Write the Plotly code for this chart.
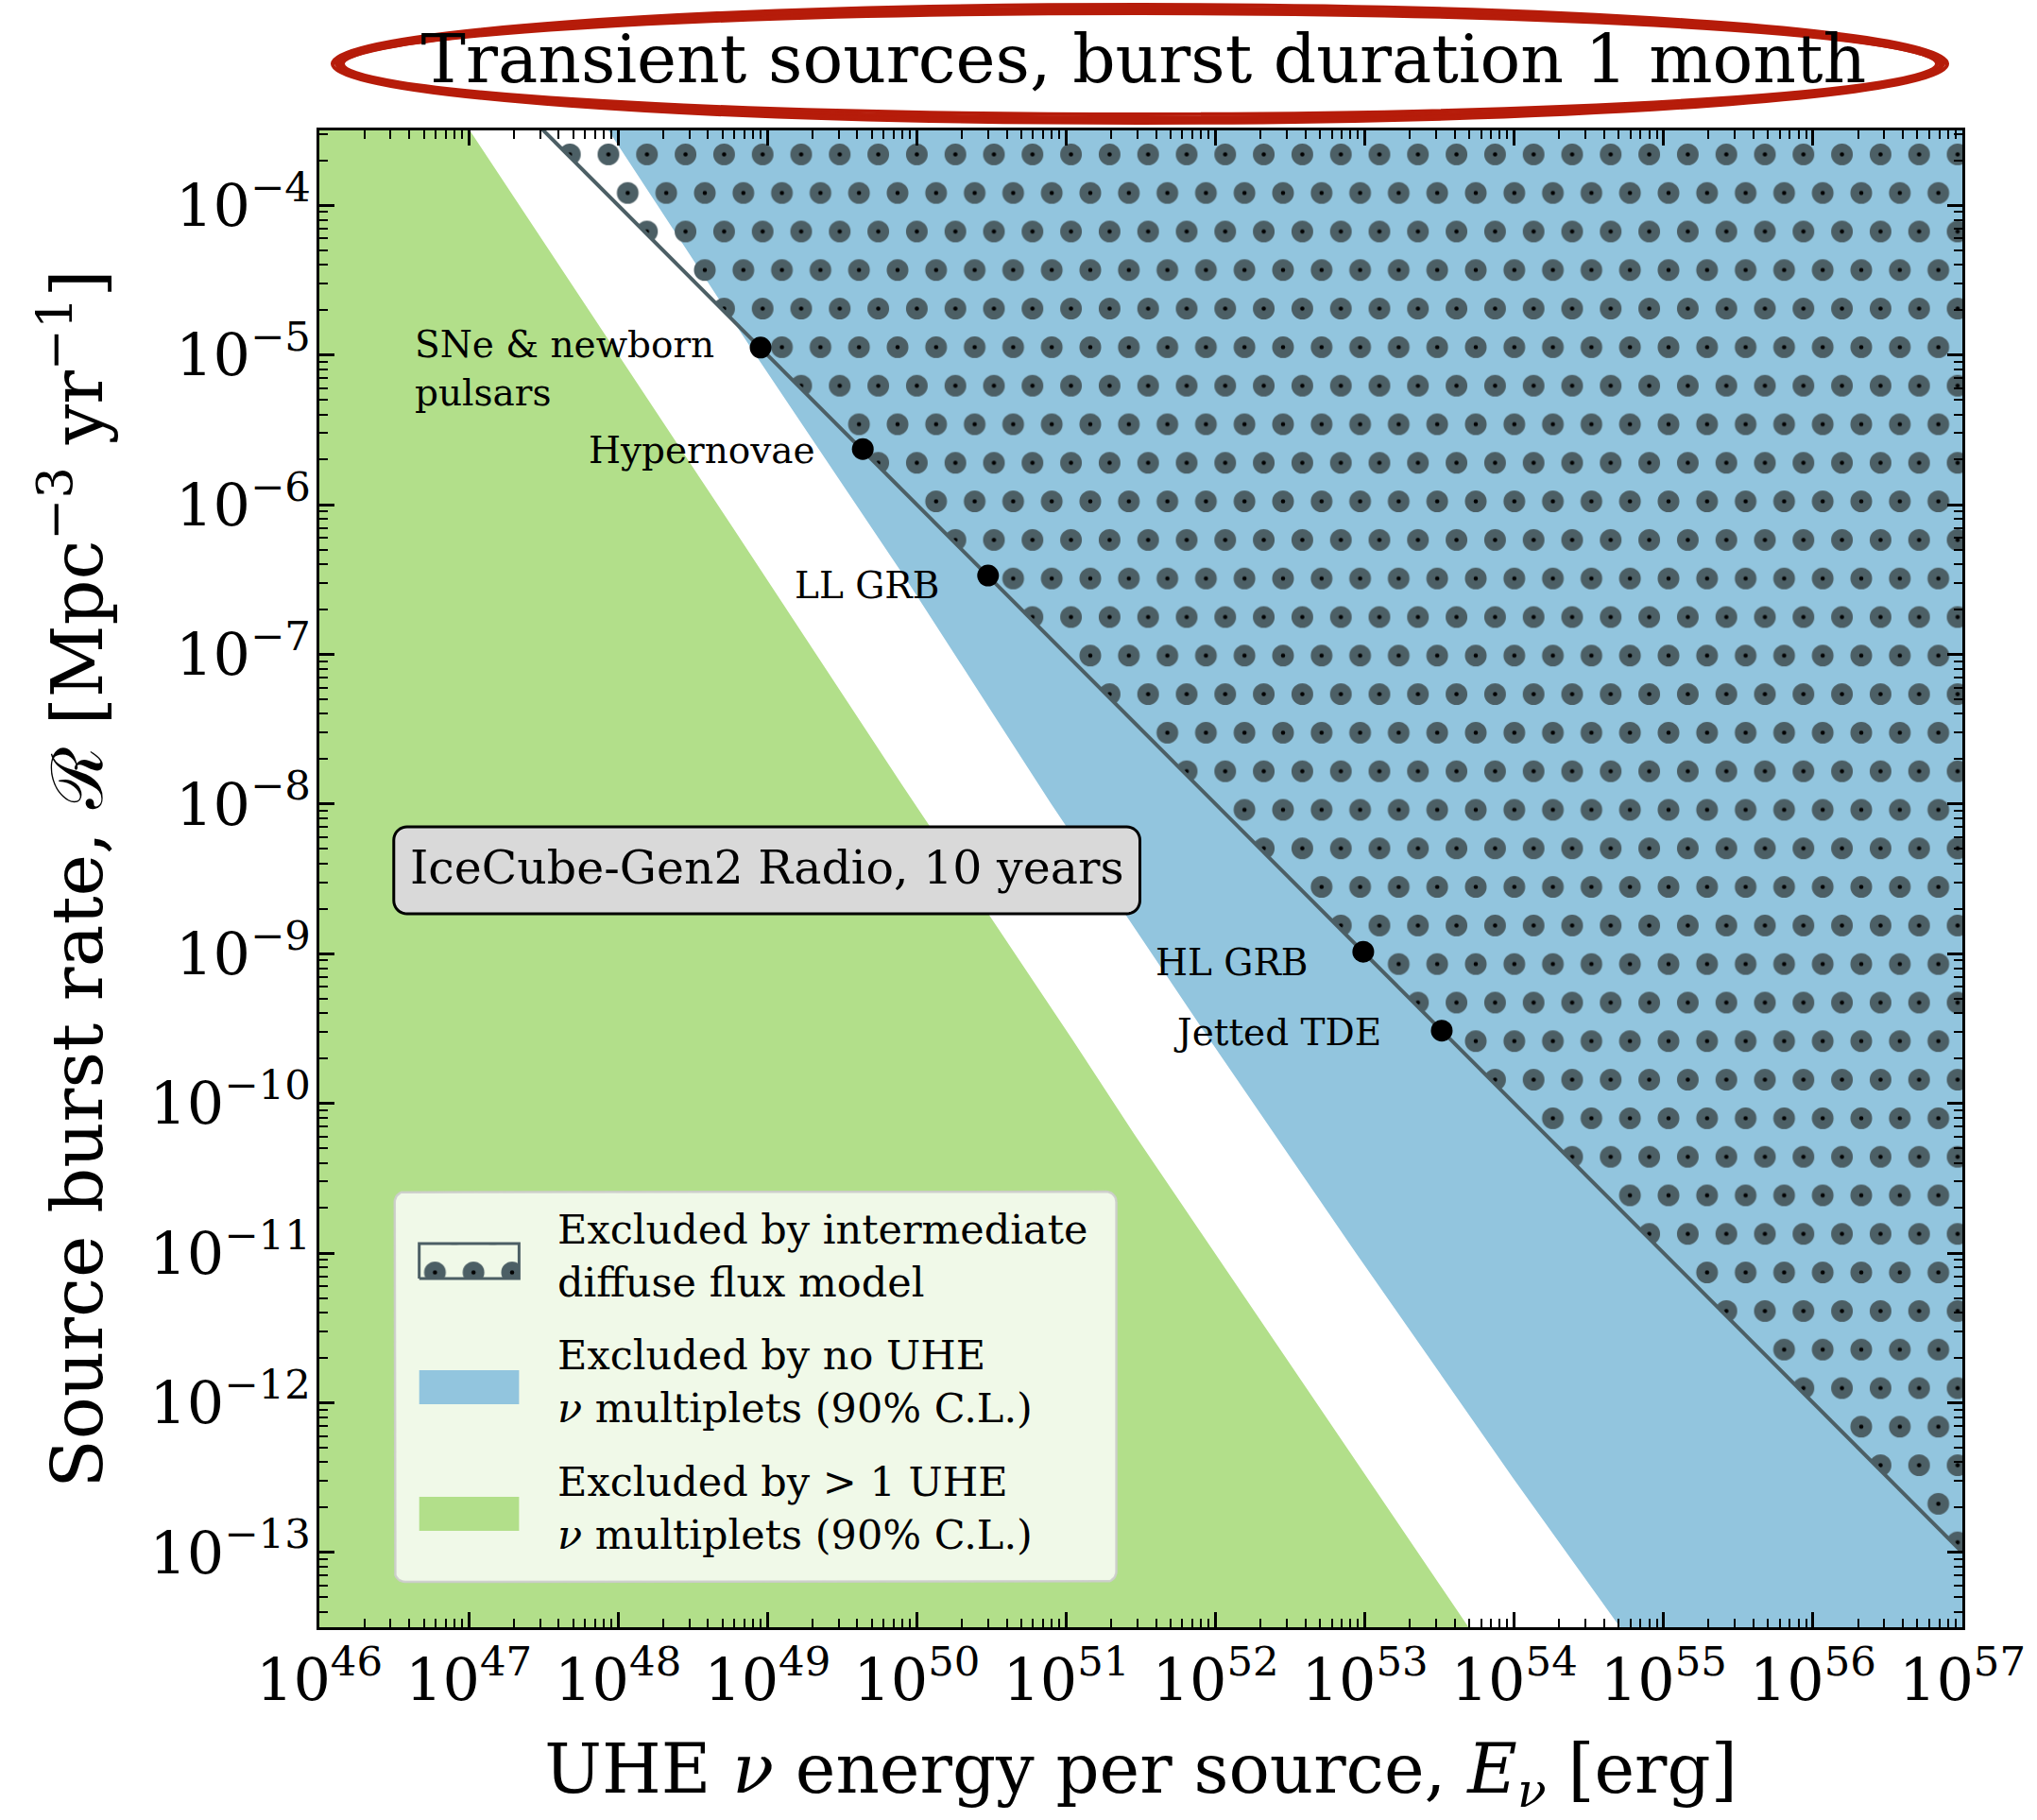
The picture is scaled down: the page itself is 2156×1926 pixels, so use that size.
import numpy as np
import plotly.graph_objects as go

# ------------------------------------------------------------------ data
x_tick_vals = [1e46, 1e47, 1e48, 1e49, 1e50, 1e51, 1e52, 1e53, 1e54, 1e55, 1e56, 1e57]
x_tick_text = ["10<sup>46</sup>", "10<sup>47</sup>", "10<sup>48</sup>", "10<sup>49</sup>",
               "10<sup>50</sup>", "10<sup>51</sup>", "10<sup>52</sup>", "10<sup>53</sup>",
               "10<sup>54</sup>", "10<sup>55</sup>", "10<sup>56</sup>", "10<sup>57</sup>"]
y_tick_vals = [1e-13, 1e-12, 1e-11, 1e-10, 1e-9, 1e-8, 1e-7, 1e-6, 1e-5, 1e-4]
y_tick_text = ["10<sup>−13</sup>", "10<sup>−12</sup>", "10<sup>−11</sup>", "10<sup>−10</sup>",
               "10<sup>−9</sup>", "10<sup>−8</sup>", "10<sup>−7</sup>", "10<sup>−6</sup>",
               "10<sup>−5</sup>", "10<sup>−4</sup>"]

# boundary of region excluded by > 1 UHE multiplets (green)
green_E = [8.7e46, 5.96e48, 7.94e49, 1.10e51, 2.85e51, 5.8e53]
green_R = [4.0e-4, 6.85e-7, 1.35e-8, 2.67e-10, 6.24e-11, 2.5e-14]
# boundary of region excluded by no UHE multiplets (blue)
blue_E = [7.41e47, 8.32e48, 8.51e49, 7.94e50, 8.13e51, 8.71e52, 9.77e53, 6.03e54]
blue_R = [3.98e-4, 1.0e-5, 3.16e-7, 1.0e-8, 3.16e-10, 1.0e-11, 3.16e-13, 2.51e-14]
# intermediate diffuse flux model limit
diffuse_E = [1e47, 1e57]
diffuse_R = [1e-3, 1e-13]
# source classes
source_names = ["SNe & newborn<br>pulsars", "Hypernovae", "LL GRB", "HL GRB", "Jetted TDE"]
source_E = [9.0e48, 4.35e49, 3.0e50, 9.75e52, 3.27e53]
source_R = [1.12e-5, 2.35e-6, 3.36e-7, 1.03e-9, 3.06e-10]

legend_texts = ["Excluded by intermediate<br>diffuse flux model",
                "Excluded by no UHE<br><i>ν</i> multiplets (90% C.L.)",
                "Excluded by &gt; 1 UHE<br><i>ν</i> multiplets (90% C.L.)"]

# ------------------------------------------------------------------ style
FONT = "DejaVu Serif"
GREEN = "#b2df8a"
BLUE = "#92c5de"
SLATE = "#4c5f65"
W, H = 2156, 1926
ML, MR, MT, MB = 338, 74, 138, 204
PW, PH = W - ML - MR, H - MT - MB


def px2paper(px, py):
    return (px - ML) / PW, (H - MB - py) / PH


def rounded_pts(px0, py0, px1, py1, rad, n=10):
    x0, y1 = px2paper(px0, py0)
    x1, y0 = px2paper(px1, py1)
    rx, ry = rad / PW, rad / PH
    pts = []
    for cx, cy, a0, a1 in [(x1 - rx, y1 - ry, 0, 90), (x0 + rx, y1 - ry, 90, 180),
                           (x0 + rx, y0 + ry, 180, 270), (x1 - rx, y0 + ry, 270, 360)]:
        for a in np.radians(np.linspace(a0, a1, n)):
            pts.append((cx + rx * np.cos(a), cy + ry * np.sin(a)))
    pts.append(pts[0])
    return pts


def rounded_path(*args, **kw):
    pts = rounded_pts(*args, **kw)
    return "M" + "L".join(f"{x:.5f},{y:.5f}" for x, y in pts) + "Z"


# dotted hatch patterns (staggered grid)
T = 81.6
DY = 5
CENTERS = [(T / 4, T / 4 + DY), (3 * T / 4, T / 4 + DY), (0, 3 * T / 4 + DY),
           (T / 2, 3 * T / 4 + DY), (T, 3 * T / 4 + DY)]


def circles(r):
    return "".join(
        f"M{cx - r:.2f},{cy:.2f}A{r},{r} 0 1,0 {cx + r:.2f},{cy:.2f}A{r},{r} 0 1,0 {cx - r:.2f},{cy:.2f}Z"
        for cx, cy in CENTERS)


def make_pattern(r, color):
    try:
        fp = dict(path=circles(r), size=T, fgcolor=color, bgcolor="rgba(0,0,0,0)", fillmode="replace")
        go.scatter.Fillpattern(**fp)
        return fp
    except Exception:
        s = T / 2
        return dict(shape=".", size=s, solidity=np.pi * r * r / (s * s), fgcolor=color,
                    bgcolor="rgba(0,0,0,0)", fillmode="replace")


PAT_DOT = make_pattern(11.5, SLATE)
PAT_CTR = make_pattern(2.3, "black")

fig = go.Figure()
X_LO, X_HI = 1e45, 1e58
NOLINE = dict(color="rgba(0,0,0,0)", width=0)

# green region
fig.add_trace(go.Scatter(x=green_E + [X_LO, X_LO], y=green_R + [green_R[-1], green_R[0]],
                         fill="toself", fillcolor=GREEN, mode="lines", line=NOLINE,
                         hoverinfo="skip", showlegend=False))
# blue region
fig.add_trace(go.Scatter(x=blue_E + [X_HI, X_HI], y=blue_R + [blue_R[-1], blue_R[0]],
                         fill="toself", fillcolor=BLUE, mode="lines", line=NOLINE,
                         hoverinfo="skip", showlegend=False))
# hatched region above diffuse limit
hx = diffuse_E + [X_HI, X_HI]
hy = diffuse_R + [diffuse_R[-1], diffuse_R[0]]
for pat in (PAT_DOT, PAT_CTR):
    fig.add_trace(go.Scatter(x=hx, y=hy, fill="toself", fillcolor="rgba(0,0,0,0)", fillpattern=pat,
                             mode="lines", line=NOLINE, hoverinfo="skip", showlegend=False))
# diffuse line
fig.add_trace(go.Scatter(x=diffuse_E, y=diffuse_R, mode="lines", line=dict(color=SLATE, width=4),
                         hoverinfo="skip", showlegend=False))
# sources
fig.add_trace(go.Scatter(x=source_E, y=source_R, mode="markers",
                         marker=dict(color="black", size=23, line=dict(width=0)),
                         hoverinfo="skip", showlegend=False))

# source labels (shifts in px relative to each point)
label_shift = [(-47, -22), (-48, -1), (-50, -10), (-57, -11), (-62, -2)]
annotations = []
for name, e, r, (dx, dy) in zip(source_names, source_E, source_R, label_shift):
    annotations.append(dict(x=np.log10(e), y=np.log10(r), xref="x", yref="y", text=name,
                            showarrow=False, xanchor="right", yanchor="middle", align="left",
                            xshift=dx, yshift=dy, font=dict(family=FONT, size=39, color="black")))

# ---------------------------------------------------------------- legend (overlay subplot)
box = rounded_pts(418, 1261, 1184, 1674, 11)
fig.add_trace(go.Scatter(x=[p[0] for p in box], y=[p[1] for p in box], xaxis="x2", yaxis="y2",
                         fill="toself", fillcolor="rgba(255,255,255,0.8)", mode="lines",
                         line=dict(color="rgba(204,204,204,0.9)", width=2.5),
                         hoverinfo="skip", showlegend=False))
icon_rows = [(1316, 1353), (1450, 1486), (1584, 1620)]
ix0, _ = px2paper(444, 0)
ix1, _ = px2paper(550, 0)
# hatch icon
_, iy1 = px2paper(0, icon_rows[0][0])
_, iy0 = px2paper(0, icon_rows[0][1])
for k, pat in enumerate((PAT_DOT, PAT_CTR)):
    fig.add_trace(go.Scatter(x=[ix0, ix1, ix1, ix0, ix0], y=[iy0, iy0, iy1, iy1, iy0],
                             xaxis="x2", yaxis="y2", fill="toself", fillcolor="rgba(0,0,0,0)",
                             fillpattern=pat, mode="lines",
                             line=dict(color=SLATE, width=3) if k == 0 else NOLINE,
                             hoverinfo="skip", showlegend=False))
for (py0, py1), col in zip(icon_rows[1:], (BLUE, GREEN)):
    _, a = px2paper(0, py0)
    _, b = px2paper(0, py1)
    fig.add_trace(go.Scatter(x=[ix0, ix1, ix1, ix0, ix0], y=[b, b, a, a, b], xaxis="x2", yaxis="y2",
                             fill="toself", fillcolor=col, mode="lines", line=NOLINE,
                             hoverinfo="skip", showlegend=False))
tx, _ = px2paper(589, 0)
for txt, cy in zip(legend_texts, (1329, 1462, 1596)):
    _, ty = px2paper(0, cy)
    annotations.append(dict(x=tx, y=ty, xref="paper", yref="paper", text=txt, showarrow=False,
                            xanchor="left", yanchor="middle", align="left",
                            font=dict(family=FONT, size=43, color="black")))

# IceCube-Gen2 box
shapes = [dict(type="path", xref="paper", yref="paper", path=rounded_path(417, 875, 1209, 967, 14),
               fillcolor="#d9d9d9", line=dict(color="black", width=3), layer="above")]
bx, by = px2paper(813, 918)
annotations.append(dict(x=bx, y=by, xref="paper", yref="paper", text="IceCube-Gen2 Radio, 10 years",
                        showarrow=False, xanchor="center", yanchor="middle",
                        font=dict(family=FONT, size=49, color="black")))

# red hand-drawn ellipse around title (several slightly offset strokes)
for (a, b, c, d), wdt in [((358, 10, 2060, 126), 6), ((352, 5, 2066, 130), 4), ((363, 14, 2055, 121), 4),
                          ((355, 8, 2063, 124), 3), ((361, 12, 2058, 128), 3)]:
    x0, y1 = px2paper(a, b)
    x1, y0 = px2paper(c, d)
    shapes.append(dict(type="circle", xref="paper", yref="paper", x0=x0, x1=x1, y0=y0, y1=y1,
                       line=dict(color="#b61c0a", width=wdt), layer="above"))

# minor ticks
x_minor = [k * 10.0 ** n for n in range(46, 57) for k in range(2, 10)]
y_minor = [k * 10.0 ** n for n in range(-14, -3) for k in range(2, 10)]

axis_common = dict(showline=True, linecolor="black", linewidth=2.5, mirror="allticks",
                   ticks="inside", ticklen=16, tickwidth=2.5, tickcolor="black",
                   showgrid=False, zeroline=False, type="log",
                   tickfont=dict(family=FONT, size=62, color="black"))

fig.update_layout(
    width=W, height=H,
    margin=dict(l=ML, r=MR, t=MT, b=MB, pad=0),
    paper_bgcolor="white", plot_bgcolor="white",
    title=dict(text="Transient sources, burst duration 1 month", x=(1213 - ML) / PW, xref="paper",
               xanchor="center", y=1 - 62.5 / H, yref="container", yanchor="middle",
               font=dict(family=FONT, size=71, color="black")),
    xaxis=dict(axis_common, range=[46, 57], tickmode="array", tickvals=x_tick_vals, ticktext=x_tick_text,
               minor=dict(tickmode="array", tickvals=x_minor, ticks="inside", ticklen=9, tickwidth=2,
                          tickcolor="black", showgrid=False),
               title=dict(text="UHE <i>ν</i> energy per source, <i>E</i><sub><i>ν</i></sub> [erg]",
                          font=dict(family=FONT, size=72, color="black"), standoff=34)),
    yaxis=dict(axis_common, range=[-13.5, -3.5], tickmode="array", tickvals=y_tick_vals, ticktext=y_tick_text,
               ticklabelstandoff=-6,
               minor=dict(tickmode="array", tickvals=y_minor, ticks="inside", ticklen=9, tickwidth=2,
                          tickcolor="black", showgrid=False),
               title=dict(text="Source burst rate, ℛ [Mpc<sup>−3</sup> yr<sup>−1</sup>]",
                          font=dict(family=FONT, size=75, color="black"), standoff=26)),
    xaxis2=dict(overlaying="x", range=[0, 1], visible=False, fixedrange=True),
    yaxis2=dict(overlaying="y", range=[0, 1], visible=False, fixedrange=True),
    shapes=shapes,
    annotations=annotations,
    showlegend=False,
)

fig.write_html("out.html", config={"displayModeBar": False},
               post_script="document.body.style.margin='0';document.body.style.padding='0';"
                           "document.body.style.overflow='hidden';")
